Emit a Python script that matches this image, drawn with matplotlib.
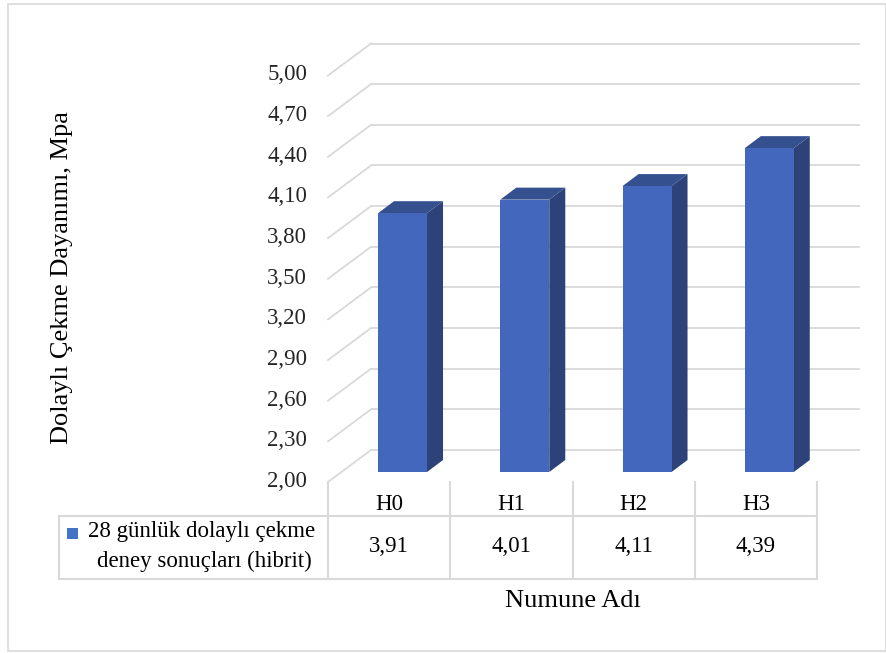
import matplotlib
matplotlib.use("Agg")
import matplotlib.pyplot as plt
from matplotlib.patches import Polygon, Rectangle
from matplotlib.lines import Line2D
from matplotlib.transforms import blended_transform_factory, ScaledTranslation

plt.rcParams["font.family"] = ["Liberation Serif", "DejaVu Serif"]

# ---- data ----
categories = ["H0", "H1", "H2", "H3"]
values = [3.91, 4.01, 4.11, 4.39]
value_labels = ["3,91", "4,01", "4,11", "4,39"]
y_ticks = [2.00, 2.30, 2.60, 2.90, 3.20, 3.50, 3.80, 4.10, 4.40, 4.70, 5.00]
y_tick_labels = ["2,00", "2,30", "2,60", "2,90", "3,20", "3,50",
                 "3,80", "4,10", "4,40", "4,70", "5,00"]
series_name = ["28 günlük dolaylı çekme", "deney sonuçları (hibrit)"]
y_title = "Dolaylı Çekme Dayanımı, Mpa"
x_title = "Numune Adı"

# ---- figure / layout (pixels) ----
W, H = 887, 653
fig = plt.figure(figsize=(W / 100, H / 100), dpi=100)
fig.patch.set_facecolor("white")


def fx(px):
    return px / W


def fy(py):
    return 1 - py / H


# front plane of the plot box
left_px, right_px = 328, 817
bottom_px, top_px = 482, 75.5
ax = fig.add_axes([fx(left_px), fy(bottom_px),
                   fx(right_px - left_px), (bottom_px - top_px) / H])
ax.set_xlim(-0.5, len(categories) - 0.5)
ax.set_ylim(2.0, 5.0)
for s in ax.spines.values():
    s.set_visible(False)
ax.set_xticks([])
ax.set_yticks(y_ticks)
ax.set_yticklabels(y_tick_labels, fontsize=16.5, color="#262626")
ax.tick_params(axis="y", length=0, pad=15)
lift = ScaledTranslation(0, 3 / 100, fig.dpi_scale_trans)
for lab in ax.get_yticklabels():
    lab.set_transform(lab.get_transform() + lift)
ax.patch.set_alpha(0)

# depth offsets (data units) for the back wall and bar faces
x_unit = (right_px - left_px) / len(categories)
y_unit = (bottom_px - top_px) / 3.0
WALL_DX, WALL_DY = 43 / x_unit, 32 / y_unit
FRONT_DX, FRONT_DY = 13.4 / x_unit, 10 / y_unit
BACK_DX, BACK_DY = 29.4 / x_unit, 22 / y_unit
bar_w = 49 / x_unit

grid_col = "#D9D9D9"
x0, x1 = -0.5, len(categories) - 0.5
for v in y_ticks:
    # back wall gridline
    ax.plot([x0 + WALL_DX, x1 + WALL_DX], [v + WALL_DY, v + WALL_DY],
            color=grid_col, lw=1.3, clip_on=False, zorder=1,
            solid_capstyle="butt")
    # side wall diagonal
    ax.plot([x0, x0 + WALL_DX], [v, v + WALL_DY],
            color=grid_col, lw=1.3, clip_on=False, zorder=1)

# ---- 3D columns ----
front_col = "#4467BE"
top_col = "#34508F"
side_col = "#2C4279"
xs = list(range(len(categories)))
ax.bar([x + FRONT_DX for x in xs], [v - 2.0 for v in values],
       bottom=2.0 + FRONT_DY, width=bar_w, color=front_col,
       zorder=4, clip_on=False)
for x, v in zip(xs, values):
    xr_f = x + FRONT_DX + bar_w / 2
    xl_f = x + FRONT_DX - bar_w / 2
    xr_b = x + BACK_DX + bar_w / 2
    xl_b = x + BACK_DX - bar_w / 2
    side = Polygon([(xr_f, 2.0 + FRONT_DY), (xr_f, v + FRONT_DY),
                    (xr_b, v + BACK_DY), (xr_b, 2.0 + BACK_DY)],
                   closed=True, facecolor=side_col, edgecolor="none",
                   zorder=3, clip_on=False)
    top = Polygon([(xl_f, v + FRONT_DY), (xr_f, v + FRONT_DY),
                   (xr_b, v + BACK_DY), (xl_b, v + BACK_DY)],
                  closed=True, facecolor=top_col, edgecolor="none",
                  zorder=3, clip_on=False)
    ax.add_patch(side)
    ax.add_patch(top)

# ---- data table ----
tr = blended_transform_factory(ax.transData, fig.transFigure)
tbl_col = "#D9D9D9"
row_mid_px, row_bot_px = 516, 579
legend_left = x0 - (left_px - 59) / x_unit


def tline(xa, xb, ya, yb):
    fig.add_artist(Line2D([xa, xb], [ya, yb], transform=tr,
                          color=tbl_col, lw=1.5))


for b in [x0 + i for i in range(len(categories) + 1)]:
    tline(b, b, fy(bottom_px), fy(row_bot_px))
tline(legend_left, x1, fy(row_mid_px), fy(row_mid_px))
tline(legend_left, x1, fy(row_bot_px), fy(row_bot_px))
tline(legend_left, legend_left, fy(row_mid_px), fy(row_bot_px))

for x, c, lab in zip(xs, categories, value_labels):
    fig.text(x, fy(504), c, transform=tr, ha="center", va="center",
             fontsize=16.5, color="#000000")
    fig.text(x, fy(547), lab, transform=tr, ha="center", va="center",
             fontsize=16.5, color="#000000")

# series key and name in the table's first column
fig.add_artist(Rectangle((fx(67), fy(539)), fx(11), 11 / H,
                         transform=fig.transFigure, facecolor="#4472C4",
                         edgecolor="none"))
fig.text(fx(202), fy(531), series_name[0], ha="center", va="center",
         fontsize=16.5, color="#000000")
fig.text(fx(204), fy(561), series_name[1], ha="center", va="center",
         fontsize=16.5, color="#000000")

# ---- axis titles ----
fig.text(fx(62), fy(278), y_title, rotation=90, ha="center", va="center",
         fontsize=19, color="#000000")
fig.text(fx(573), fy(601), x_title, ha="center", va="center",
         fontsize=19, color="#000000")

# chart area border
fig.add_artist(Rectangle((fx(8), fy(651)), fx(878), (651 - 4) / H,
                         transform=fig.transFigure, facecolor="none",
                         edgecolor="#D9D9D9", lw=1.2))

fig.savefig("out.png", dpi=100)
